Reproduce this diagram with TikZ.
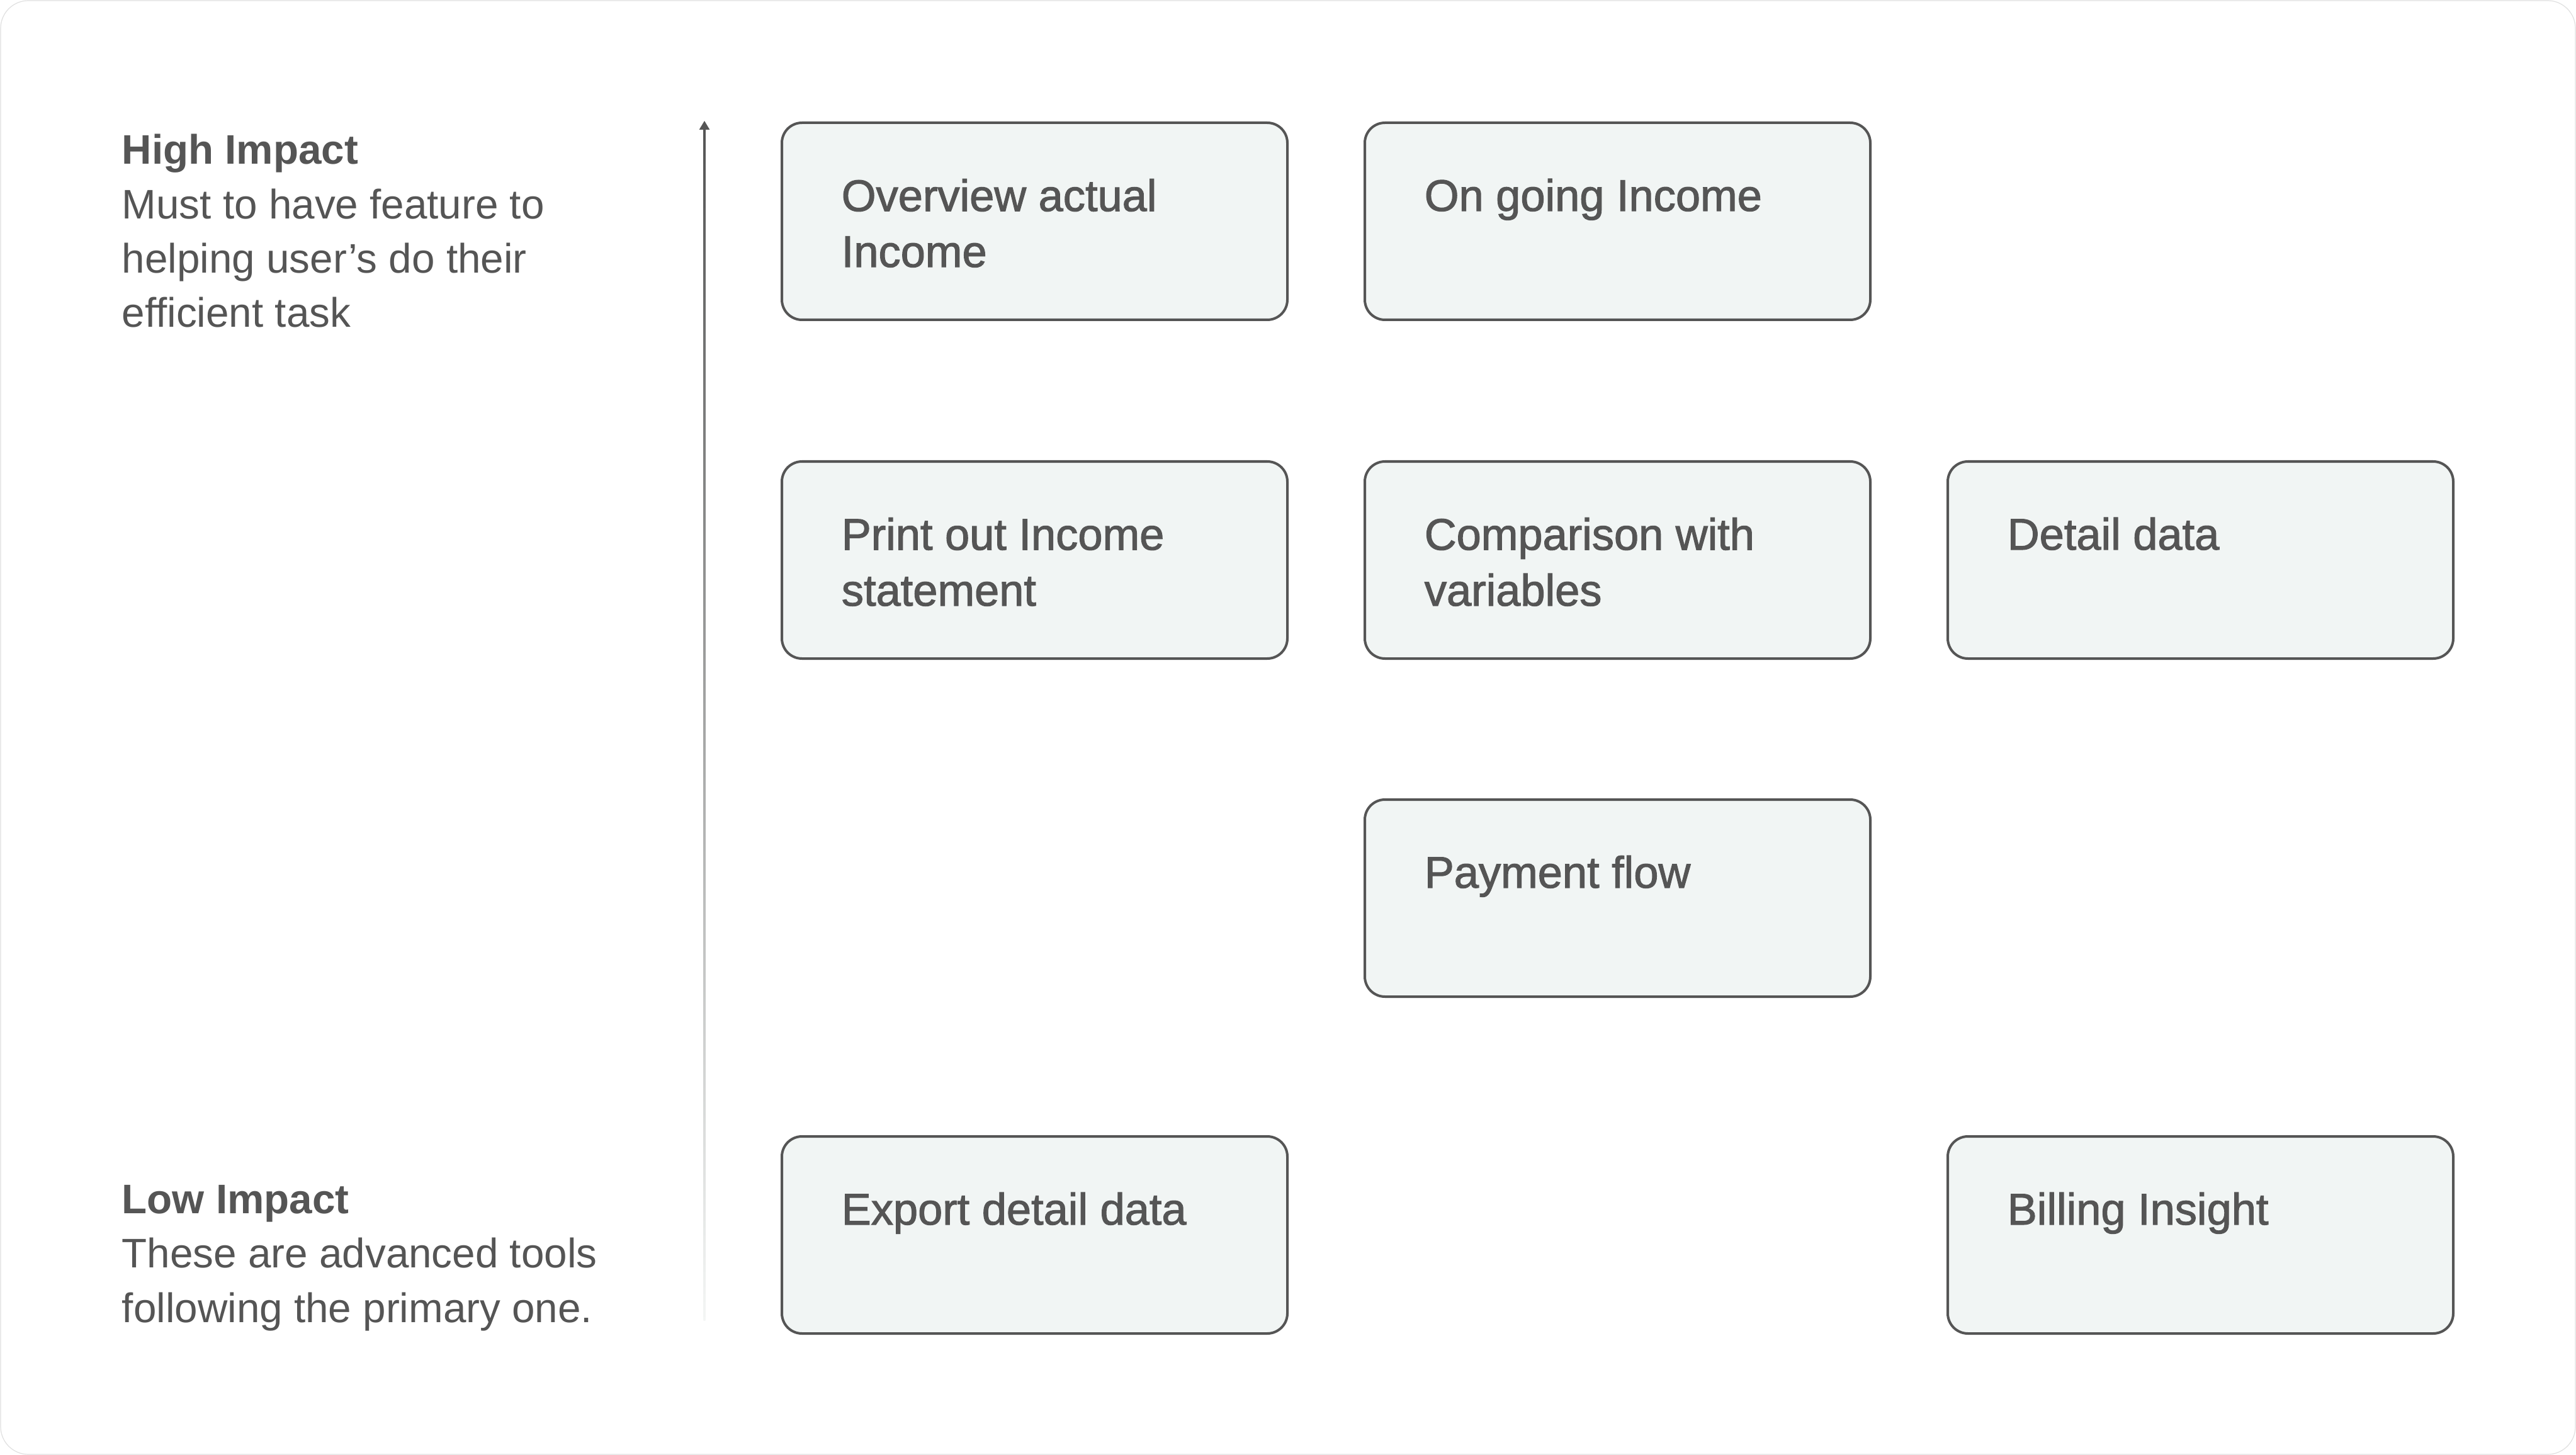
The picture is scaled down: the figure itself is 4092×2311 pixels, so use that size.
\documentclass[tikz,border=0pt]{standalone}
\usepackage{fontspec}
\setmainfont{Liberation Sans}
\newfontfamily\boxfont{Liberation Sans}[FakeBold=1.6]
\usetikzlibrary{shapes.geometric}
\definecolor{txt}{HTML}{555555}
\definecolor{boxfill}{HTML}{F1F5F4}
\definecolor{boxline}{HTML}{555555}
\definecolor{fade}{HTML}{F4F6F5}
\tikzset{
  featbox/.style={draw=boxline, fill=boxfill, line width=1pt, rounded corners=8pt,
    minimum width=200.75pt, minimum height=78.25pt, inner sep=0pt, anchor=north west},
  boxtext/.style={anchor=base west, align=left, inner sep=0pt, text=txt,
    font=\boxfont\fontsize{17.6}{22.2}\selectfont},
  sidetext/.style={anchor=base west, align=left, inner sep=0pt, text=txt,
    font=\fontsize{16.4}{21.6}\selectfont}
}
\begin{document}
\begin{tikzpicture}[x=0.25pt,y=-0.25pt]
\useasboundingbox (0,0) rectangle (4092,2311);
\fill[white] (0,0) rectangle (4092,2311);
\draw[black!12, line width=0.3pt, rounded corners=11pt] (1,1) rectangle (4091,2310);

% side labels (anchor at baseline of the last line)
\node[sidetext] (high) at (193,520) {{\bfseries High Impact}\\Must to have feature to\\helping user’s do their\\efficient task};
\node[sidetext] (low) at (193,2100) {{\bfseries Low Impact}\\These are advanced tools\\following the primary one.};

% axis
\coordinate (axbot) at (1119,2097);
\coordinate (axtop) at (1119,206);
\coordinate (axtip) at (1119,192);
\shade[top color=txt, bottom color=fade] ([xshift=-0.35pt]axbot) rectangle ([xshift=0.35pt]axtop);
\fill[txt] (axtip) -- ([xshift=-2.1pt]axtop) -- ([xshift=2.1pt]axtop) -- cycle;

% boxes
\node[featbox] (b11) at (1240,193) {};
\node[featbox] (b12) at (2166,193) {};
\node[featbox] (b21) at (1240,731) {};
\node[featbox] (b22) at (2166,731) {};
\node[featbox] (b23) at (3092,731) {};
\node[featbox] (b32) at (2166,1268) {};
\node[featbox] (b41) at (1240,1803) {};
\node[featbox] (b43) at (3092,1803) {};

% box texts (anchor at baseline of the last line)
\node[boxtext] (t11) at ([shift={(96,231)}]b11.north west) {Overview actual\\Income};
\node[boxtext] (t12) at ([shift={(96,142)}]b12.north west) {On going Income};
\node[boxtext] (t21) at ([shift={(96,231)}]b21.north west) {Print out Income\\statement};
\node[boxtext] (t22) at ([shift={(96,231)}]b22.north west) {Comparison with\\variables};
\node[boxtext] (t23) at ([shift={(96,142)}]b23.north west) {Detail data};
\node[boxtext] (t32) at ([shift={(96,142)}]b32.north west) {Payment flow};
\node[boxtext] (t41) at ([shift={(96,142)}]b41.north west) {Export detail data};
\node[boxtext] (t43) at ([shift={(96,142)}]b43.north west) {Billing Insight};
\end{tikzpicture}
\end{document}
